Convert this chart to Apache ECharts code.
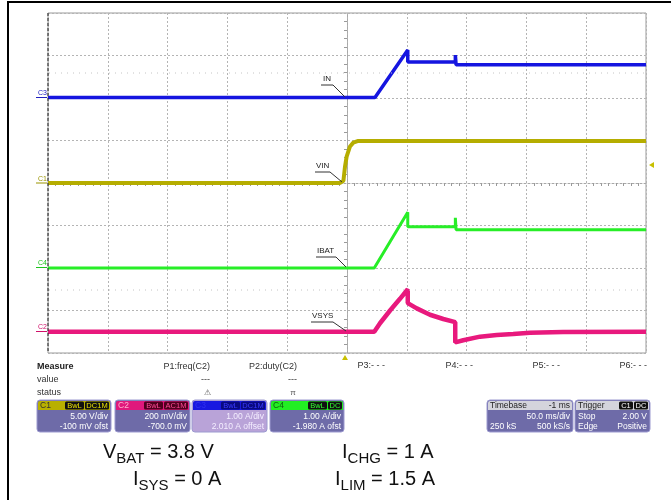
<!DOCTYPE html>
<html>
<head>
<meta charset="utf-8">
<script src="https://cdn.jsdelivr.net/npm/echarts@6/dist/echarts.min.js"></script>
<style>
  html, body { margin: 0; padding: 0; background: #fff; }
  #chart { width: 671px; height: 500px; }
</style>
</head>
<body>
<div id="chart"></div>
<script>
// scope channel settings
const channels = ['C1', 'C2', 'C3', 'C4'];
const perDiv = [5, 0.2, 1, 1];
const offsets = [-0.1, -0.7, 2.01, -1.98];

// time in ms, 50 ms/div
const timeRange = [-250, 250];

// VIN on C1 (V)
const vinTime = [-250, -6, -3, -1.7, -0.3, 2.5, 5.3, 9.4, 250];
const vinVolts = [0.1, 0.1, 0.35, 2.0, 3.2, 4.4, 4.85, 5.05, 5.05];

// VSYS on C2 (V, AC coupled)
const vsysTime = [-250, 22.8, 27.6, 36.0, 44.3, 50.8, 50.8, 58.3, 69.4, 80.5, 90.5, 90.5, 97.2, 111.2, 125.2, 139.0, 153.0, 180.6, 250];
const vsysVolts = [0, 0, 0.04, 0.10, 0.155, 0.2, 0.135, 0.11, 0.08, 0.06, 0.045, -0.05, -0.04, -0.023, -0.015, -0.011, -0.005, -0.001, 0];

// IN on C3 (A)
const inTime = [-250, 23.4, 50.8, 50.8, 90.6, 90.6, 91.2, 91.2, 250];
const inAmps = [0, 0, 1.12, 0.84, 0.84, 1.0, 1.0, 0.77, 0.77];

// IBAT on C4 (A)
const ibatTime = [-250, 22.8, 50.8, 50.8, 90.6, 90.6, 91.2, 91.2, 250];
const ibatAmps = [-0.02, -0.02, 1.29, 0.95, 0.95, 1.16, 1.16, 0.88, 0.88];

const FONT = '"Liberation Sans", Arial, sans-serif';
const BODY = '#6e6ba8';

const pairs = (xs, ys) => xs.map((x, i) => [x, ys[i]]);

function label(x, y, text, o) {
  o = o || {};
  return {
    type: 'text', x: x, y: y, silent: true, z: 20,
    style: {
      text: text,
      fill: o.color || '#333',
      font: (o.weight || 'normal') + ' ' + (o.size || 9) + 'px ' + FONT,
      textAlign: o.align || 'left', align: o.align || 'left',
      textVerticalAlign: 'middle', verticalAlign: 'middle'
    }
  };
}
function seg(x1, y1, x2, y2, color, width, dash) {
  return {
    type: 'line', silent: true, z: 20,
    shape: { x1: x1, y1: y1, x2: x2, y2: y2 },
    style: { stroke: color, lineWidth: width || 1, lineDash: dash || null }
  };
}
function box(x, y, w, h, fill, r, stroke) {
  return {
    type: 'rect', silent: true, z: 15,
    shape: { x: x, y: y, width: w, height: h, r: r || 0 },
    style: { fill: fill, stroke: stroke || null, lineWidth: 1 }
  };
}

// one scope info box: coloured header, tags, two rows of text
function scopeBox(x, w, o) {
  const els = [];
  els.push(box(x, 400, w, 32, o.body || BODY, 3, '#9c9ad0'));
  els.push(box(x + 1, 401, w - 2, 9, o.head, [2, 2, 0, 0]));
  els.push(label(x + 3, 405.5, o.title, { color: o.titleColor || '#222', size: 8.5 }));
  let tx = x + w - 2;
  (o.tags || []).slice().reverse().forEach(t => {
    const tw = t.length * 5 + 4;
    tx -= tw;
    els.push(box(tx, 401.5, tw, 8, o.tagBg || '#111', 1.5));
    els.push(label(tx + tw / 2, 405.7, t, { color: o.tagColor, size: 7.5, align: 'center' }));
    tx -= 1;
  });
  if (o.headRight) els.push(label(x + w - 3, 405.5, o.headRight, { color: '#222', size: 8.5, align: 'right' }));
  o.rows.forEach((row, i) => {
    const yy = 417 + i * 10;
    if (row[0]) els.push(label(x + 3, yy, row[0], { color: o.textColor || '#fff', size: 8.5 }));
    if (row[1]) els.push(label(x + w - 3, yy, row[1], { color: o.textColor || '#fff', size: 8.5, align: 'right' }));
  });
  return els;
}

function condition(x, y, main, sub, rest) {
  return {
    type: 'text', x: x, y: y, silent: true, z: 20,
    style: {
      text: '{m|' + main + '}{s|' + sub + '}{m|' + rest + '}',
      textVerticalAlign: 'top', verticalAlign: 'top',
      rich: {
        m: { fontSize: 20, fontFamily: FONT, fill: '#111', color: '#111', lineHeight: 22, verticalAlign: 'top' },
        s: { fontSize: 15, fontFamily: FONT, fill: '#111', color: '#111', lineHeight: 15, padding: [9, 0, 0, 0], verticalAlign: 'top' }
      }
    }
  };
}

const graphics = [
  // outer frame
  { type: 'rect', silent: true, z: 1, shape: { x: 8, y: 2, width: 700, height: 600 },
    style: { fill: null, stroke: '#000', lineWidth: 2 } },
  // left graticule edge
  seg(48, 13, 48, 353, '#222', 1, [3, 2]),
  // faint dotted rows
  seg(49, 73, 645, 73, '#c4c4c4', 1, [1, 5]),
  seg(49, 290, 645, 290, '#c4c4c4', 1, [1, 5]),

  // channel ground markers
  label(38, 93, 'C3', { color: '#2020c0', size: 7 }), seg(36, 97.5, 47, 97.5, '#2020c0'),
  label(38, 179, 'C1', { color: '#9a9400', size: 7 }), seg(36, 183, 47, 183, '#9a9400'),
  label(38, 263, 'C4', { color: '#1cc41c', size: 7 }), seg(36, 267.5, 47, 267.5, '#1cc41c'),
  label(38, 327, 'C2', { color: '#d0106a', size: 7 }), seg(36, 331.5, 47, 331.5, '#d0106a'),

  // trace names with leaders
  label(323, 79, 'IN', { color: '#222', size: 8 }), seg(321, 85, 333, 85, '#333'), seg(333, 85, 345, 97, '#333'),
  label(316, 166, 'VIN', { color: '#222', size: 8 }), seg(315, 172, 330, 172, '#333'), seg(330, 172, 342, 182, '#333'),
  label(317, 251, 'IBAT', { color: '#222', size: 8 }), seg(316, 257, 336, 257, '#333'), seg(336, 257, 346, 267, '#333'),
  label(312, 316, 'VSYS', { color: '#222', size: 8 }), seg(311, 322, 333, 322, '#333'), seg(333, 322, 346, 331, '#333'),

  // trigger markers
  { type: 'polygon', silent: true, z: 20, shape: { points: [[342, 360], [348, 360], [345, 355]] }, style: { fill: '#c8c000' } },
  { type: 'polygon', silent: true, z: 20, shape: { points: [[649, 165], [654, 162], [654, 168]] }, style: { fill: '#c8c000' } },

  // measure panel
  label(37, 367, 'Measure', { weight: 'bold', color: '#222' }),
  label(37, 380, 'value'),
  label(37, 392.5, 'status'),
  label(210, 367, 'P1:freq(C2)', { align: 'right' }),
  label(297, 367, 'P2:duty(C2)', { align: 'right' }),
  label(385, 366, 'P3:- - -', { align: 'right' }),
  label(473, 366, 'P4:- - -', { align: 'right' }),
  label(560, 366, 'P5:- - -', { align: 'right' }),
  label(647, 366, 'P6:- - -', { align: 'right' }),
  label(210, 380, '---', { align: 'right' }),
  label(297, 380, '---', { align: 'right' }),
  label(207, 392.5, '\u26a0', { align: 'center', size: 8, color: '#555' }),
  label(293, 392.5, '\u03c0', { align: 'center', size: 8, color: '#555' }),

  // test conditions
  condition(103, 442, 'V', 'BAT', ' = 3.8 V'),
  condition(133, 469.5, 'I', 'SYS', ' = 0 A'),
  condition(342, 442, 'I', 'CHG', ' = 1 A'),
  condition(335, 469.5, 'I', 'LIM', ' = 1.5 A')
].concat(
  scopeBox(37, 74, { title: 'C1', head: '#b8b000', titleColor: '#333', tags: ['BwL', 'DC1M'], tagColor: '#e8e000',
    rows: [[null, '5.00 V/div'], [null, '-100 mV ofst']] }),
  scopeBox(115, 75, { title: 'C2', head: '#e0187c', titleColor: '#ffb0d0', tags: ['BwL', 'AC1M'], tagBg: '#50001e', tagColor: '#ff4a98',
    rows: [[null, '200 mV/div'], [null, '-700.0 mV']] }),
  scopeBox(192, 75, { title: 'C3', head: '#1818e0', titleColor: '#3030f0', tags: ['BwL', 'DC1M'], tagBg: '#0a0a80', tagColor: '#3a3aff',
    body: '#b9a3d8', textColor: '#f4eeff', rows: [[null, '1.00 A/div'], [null, '2.010 A offset']] }),
  scopeBox(270, 74, { title: 'C4', head: '#22ee22', titleColor: '#106010', tags: ['BwL', 'DC'], tagColor: '#30ff30',
    rows: [[null, '1.00 A/div'], [null, '-1.980 A ofst']] }),
  scopeBox(487, 86, { title: 'Timebase', head: '#d4d4dc', headRight: '-1 ms',
    rows: [[null, '50.0 ms/div'], ['250 kS', '500 kS/s']] }),
  scopeBox(575, 75, { title: 'Trigger', head: '#d4d4dc', tags: ['C1', 'DC'], tagColor: '#ffffff',
    rows: [['Stop', '2.00 V'], ['Edge', 'Positive']] })
);

const chart = echarts.init(document.getElementById('chart'));

const splitStyle = { color: '#b4b4b4', width: 1, type: [2, 2] };

const channelAxes = channels.map((c, i) => ({
  type: 'value', show: false,
  min: -offsets[i] - 4 * perDiv[i],
  max: -offsets[i] + 4 * perDiv[i],
  splitLine: { show: false }
}));

const option = {
  animation: false,
  backgroundColor: '#fff',
  grid: { left: 48, top: 13, width: 598, height: 340, show: true, borderColor: '#9a9a9a', borderWidth: 1 },
  xAxis: {
    type: 'value', min: timeRange[0], max: timeRange[1], interval: 50,
    axisLine: { onZero: true, lineStyle: { color: '#a8a8a8', width: 1, type: [2, 2] } },
    axisTick: { show: false },
    minorTick: { show: true, splitNumber: 8, length: 3, lineStyle: { color: '#9a9a9a' } },
    axisLabel: { show: false },
    splitLine: { show: true, lineStyle: splitStyle }
  },
  yAxis: [{
    type: 'value', min: -4, max: 4, interval: 1,
    axisLine: { onZero: true, lineStyle: { color: '#a8a8a8', width: 1, type: [2, 2] } },
    axisTick: { show: false },
    minorTick: { show: true, splitNumber: 5, length: 3, lineStyle: { color: '#9a9a9a' } },
    axisLabel: { show: false },
    splitLine: { show: true, lineStyle: splitStyle }
  }].concat(channelAxes),
  series: [
    { name: 'VIN', type: 'line', yAxisIndex: 1, data: pairs(vinTime, vinVolts), symbol: 'none',
      lineStyle: { color: '#b5ad00', width: 4 }, z: 3 },
    { name: 'VSYS', type: 'line', yAxisIndex: 2, data: pairs(vsysTime, vsysVolts), symbol: 'none',
      lineStyle: { color: '#e8197d', width: 4.5 }, z: 3 },
    { name: 'IN', type: 'line', yAxisIndex: 3, data: pairs(inTime, inAmps), symbol: 'none',
      lineStyle: { color: '#1515e0', width: 3.5 }, z: 3 },
    { name: 'IBAT', type: 'line', yAxisIndex: 4, data: pairs(ibatTime, ibatAmps), symbol: 'none',
      lineStyle: { color: '#27ee27', width: 3 }, z: 3 }
  ],
  graphic: graphics
};

chart.setOption(option);
</script>
</body>
</html>
